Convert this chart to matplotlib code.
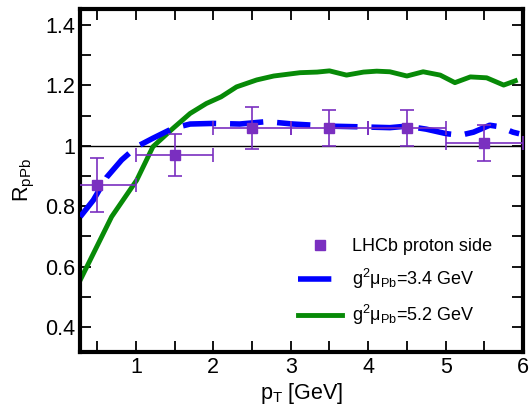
import matplotlib
matplotlib.use("Agg")
import matplotlib.pyplot as plt
from matplotlib.ticker import MultipleLocator
from matplotlib.lines import Line2D

plt.rcParams['font.family'] = ['Liberation Sans', 'DejaVu Sans']
plt.rcParams['mathtext.fontset'] = 'custom'
plt.rcParams['mathtext.rm'] = 'Liberation Sans'
plt.rcParams['mathtext.it'] = 'Liberation Sans:italic'

# LHCb data
lhcb_x = [0.5, 1.5, 2.5, 3.5, 4.5, 5.5]
lhcb_y = [0.87, 0.97, 1.06, 1.06, 1.06, 1.01]
lhcb_xerr = [0.5, 0.5, 0.5, 0.5, 0.5, 0.5]
lhcb_yerr = [0.09, 0.07, 0.07, 0.06, 0.06, 0.06]

# g^2 mu = 3.4 GeV
blue_x = [0.28, 0.45, 0.62, 0.815, 1.01, 1.22, 1.48, 1.70, 2.0, 2.34, 2.69, 3.03, 3.5,
          3.85, 4.28, 4.5, 4.75, 5.01, 5.19, 5.36, 5.57, 5.7, 5.87, 5.95]
blue_y = [0.765, 0.82, 0.895, 0.953, 0.997, 1.025, 1.058, 1.072, 1.074, 1.072, 1.08, 1.072,
          1.065, 1.063, 1.06, 1.065, 1.055, 1.04, 1.035, 1.045, 1.068, 1.063, 1.045, 1.04]

# g^2 mu = 5.2 GeV
green_x = [0.28, 0.686, 1.01, 1.22, 1.48, 1.70, 1.91, 2.1, 2.3, 2.56, 2.78, 3.12, 3.34, 3.5,
           3.72, 3.94, 4.11, 4.28, 4.5, 4.71, 4.93, 5.12, 5.32, 5.53, 5.75, 5.9]
green_y = [0.555, 0.765, 0.886, 0.997, 1.058, 1.107, 1.14, 1.162, 1.195, 1.218, 1.231, 1.242,
           1.244, 1.248, 1.234, 1.244, 1.247, 1.245, 1.231, 1.245, 1.234, 1.209, 1.228, 1.225,
           1.201, 1.215]

purple = '#7a2fc0'
blue = '#0000ff'
green = '#078a07'

fig = plt.figure(figsize=(5.31, 4.07), dpi=100)
ax = fig.add_axes([0.151, 0.135, 0.834, 0.843])

ax.axhline(1.0, color='black', lw=1.0, zorder=1)
ax.plot(blue_x, blue_y, color=blue, lw=4, dashes=(6, 2.5), zorder=3)
ax.plot(green_x, green_y, color=green, lw=3.5, zorder=2)
ax.errorbar(lhcb_x, lhcb_y, xerr=lhcb_xerr, yerr=lhcb_yerr, fmt='s', color=purple,
            ms=7, elinewidth=1.2, capsize=5, capthick=1.2, zorder=4)

ax.set_xlim(0.28, 6.0)
ax.set_ylim(0.317, 1.453)
ax.xaxis.set_minor_locator(MultipleLocator(0.5))
ax.yaxis.set_minor_locator(MultipleLocator(0.1))
ax.set_yticks([0.4, 0.6, 0.8, 1.0, 1.2, 1.4])
ax.set_yticklabels(['0.4', '0.6', '0.8', '1', '1.2', '1.4'])
ax.set_xticks([1, 2, 3, 4, 5, 6])
ax.set_xticklabels(['1', '2', '3', '4', '5', '6'])
ax.tick_params(which='both', direction='in', top=True, right=True, labelsize=15.5, width=1.3)
ax.tick_params(which='major', length=8)
ax.tick_params(which='minor', length=8)
for s in ax.spines.values():
    s.set_linewidth(3)

ax.set_xlabel(r'p$_{\rm T}$ [GeV]', fontsize=15.5, labelpad=2)
ax.set_ylabel(r'R$_{\rm pPb}$', fontsize=15.5, labelpad=6)

handles = [
    Line2D([], [], ls='none', marker='s', ms=7, color=purple),
    Line2D([], [], color=blue, lw=4, dashes=(6, 2.5)),
    Line2D([], [], color=green, lw=3.5),
]
labels = ['LHCb proton side', 'g$^2$μ$_{\\rm Pb}$=3.4 GeV', 'g$^2$μ$_{\\rm Pb}$=5.2 GeV']
ax.legend(handles, labels, loc='lower right', frameon=False, fontsize=13,
          handlelength=2.4, handletextpad=0.55, labelspacing=0.65,
          bbox_to_anchor=(0.966, 0.026))

fig.savefig('out.png', dpi=100)
